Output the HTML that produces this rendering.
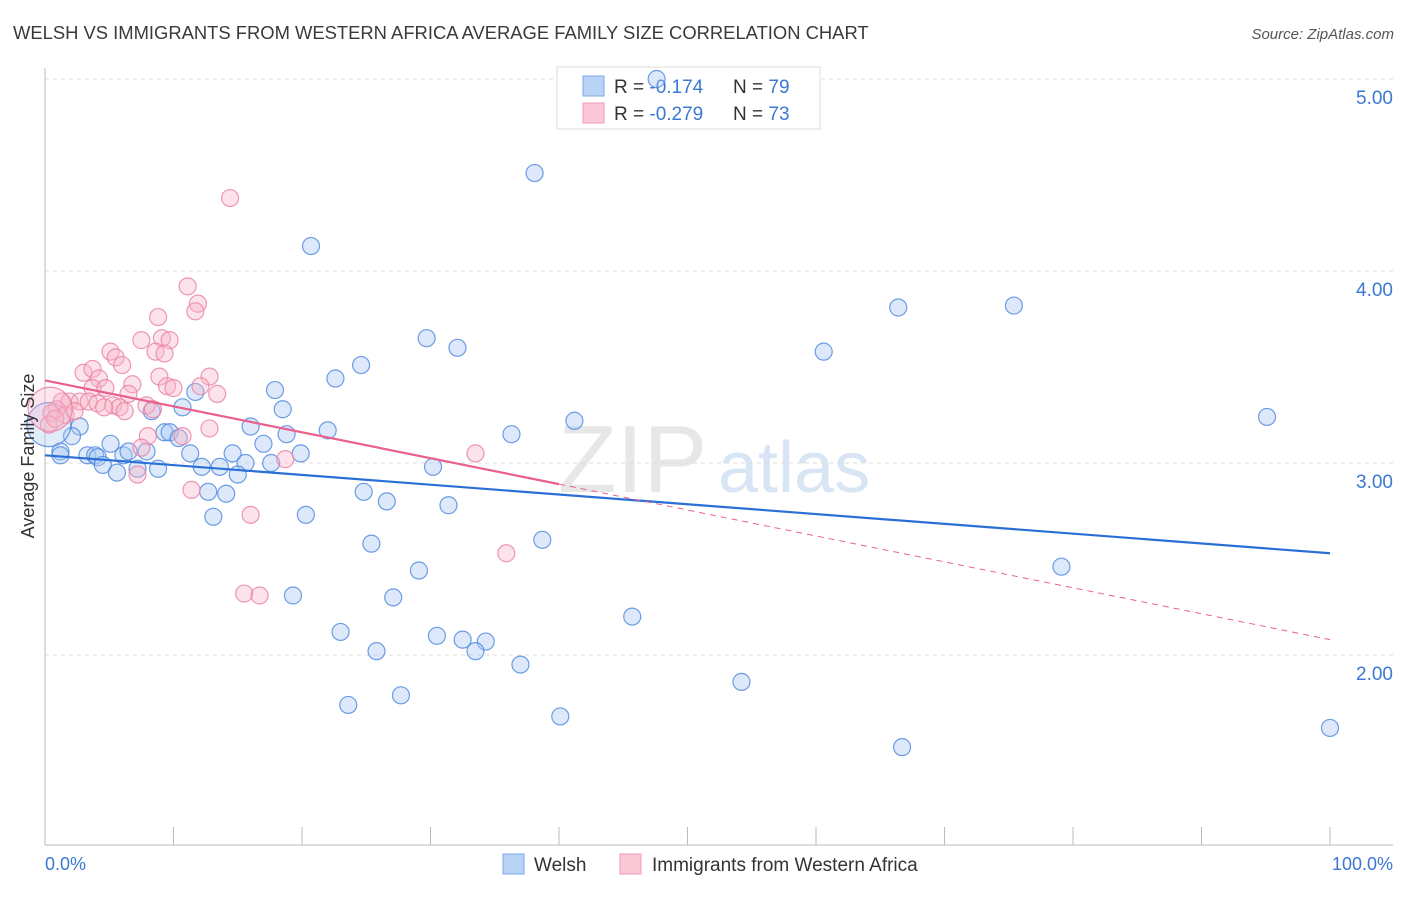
<!DOCTYPE html>
<html><head><meta charset="utf-8"><style>
body{margin:0;background:#fff;font-family:"Liberation Sans",sans-serif}
svg text{font-family:"Liberation Sans",sans-serif}
</style></head><body>
<svg id="chart" width="1406" height="892" viewBox="0 0 1406 892" xmlns="http://www.w3.org/2000/svg">
<text x="13" y="39" font-size="18.4" fill="#3a3a3a">WELSH VS IMMIGRANTS FROM WESTERN AFRICA AVERAGE FAMILY SIZE CORRELATION CHART</text>
<text x="1394" y="39" font-size="15" fill="#555" text-anchor="end" font-style="italic">Source: ZipAtlas.com</text>
<g>
<text x="558" y="492" font-size="96" fill="#d8d8d8" font-family="Liberation Serif" opacity="0.6">ZIP</text>
<text x="718" y="492" font-size="72" fill="#b8d0ee" opacity="0.55">atlas</text>
</g>
<g id="grid"></g>
<g id="axes"></g>
<g>
<rect x="557" y="67" width="263" height="62" fill="#fff" stroke="#ddd"/>
<rect x="583" y="76" width="21" height="20" fill="#b8d3f5" stroke="#7aa9e8"/>
<rect x="583" y="103" width="21" height="20" fill="#fbc8d7" stroke="#f09ab4"/>
<text x="614" y="93" font-size="19" fill="#333">R = <tspan fill="#3a78d4">-0.174</tspan><tspan x="733">N = </tspan><tspan fill="#3a78d4">79</tspan></text>
<text x="614" y="120" font-size="19" fill="#333">R = <tspan fill="#3a78d4">-0.279</tspan><tspan x="733">N = </tspan><tspan fill="#3a78d4">73</tspan></text>
</g>
<g id="marks"></g>
<text transform="translate(34,456) rotate(-90)" font-size="18" fill="#333" text-anchor="middle">Average Family Size</text>
<text x="45" y="870" font-size="18" fill="#3a78d4">0.0%</text>
<text x="1393" y="870" font-size="18" fill="#3a78d4" text-anchor="end">100.0%</text>
<g>
<rect x="503" y="854" width="21" height="20" fill="#b8d3f5" stroke="#7aa9e8"/>
<text x="534" y="871" font-size="19" fill="#333">Welsh</text>
<rect x="620" y="854" width="21" height="20" fill="#fbc8d7" stroke="#f09ab4"/>
<text x="652" y="871" font-size="19" fill="#333">Immigrants from Western Africa</text>
</g>
</svg>
<script>
const yTicks=[2,3,4,5];
const yTickLabels=["2.00","3.00","4.00","5.00"];
const xTicks=[0,10,20,30,40,50,60,70,80,90,100];
const welshX=[47.6,38.1,20.7,66.4,75.4,60.6,29.7,32.1,24.6,22.6,17.9,11.7,95.1,41.2,36.3,10.7,8.3,18.5,16.0,18.8,22.0,2.7,2.1,5.1,9.3,9.7,10.4,17.0,1.2,1.2,3.3,3.9,4.1,6.1,6.5,7.9,11.3,14.6,19.9,4.5,5.6,7.2,8.8,12.2,13.6,15.6,15.0,17.6,30.2,12.7,14.1,24.8,26.6,31.4,13.1,20.3,25.4,38.7,29.1,79.1,19.3,27.1,45.7,23.0,30.5,32.5,34.3,33.5,25.8,37.0,54.2,27.7,23.6,40.1,66.7,100,0.3];
const welshY=[5.00,4.51,4.13,3.81,3.82,3.58,3.65,3.60,3.51,3.44,3.38,3.37,3.24,3.22,3.15,3.29,3.27,3.28,3.19,3.15,3.17,3.19,3.14,3.10,3.16,3.16,3.13,3.10,3.06,3.04,3.04,3.04,3.03,3.04,3.06,3.06,3.05,3.05,3.05,2.99,2.95,2.97,2.97,2.98,2.98,3.00,2.94,3.00,2.98,2.85,2.84,2.85,2.80,2.78,2.72,2.73,2.58,2.60,2.44,2.46,2.31,2.30,2.20,2.12,2.10,2.08,2.07,2.02,2.02,1.95,1.86,1.79,1.74,1.68,1.52,1.62,3.20];
const immX=[14.4,11.1,11.9,11.7,8.8,7.5,9.1,9.7,8.6,9.3,5.1,5.5,6.0,3.0,3.7,12.8,8.9,4.2,6.8,9.5,10.0,12.1,3.7,4.7,6.5,13.4,7.9,8.4,1.3,1.9,2.7,3.4,4.1,5.3,5.8,4.6,0.9,1.6,0.5,2.3,6.2,0.3,0.8,12.8,8.0,10.7,7.5,18.7,33.5,7.2,11.4,16.0,35.9,15.5,16.7,0.4];
const immY=[4.38,3.92,3.83,3.79,3.76,3.64,3.65,3.64,3.58,3.57,3.58,3.55,3.51,3.47,3.49,3.45,3.45,3.44,3.41,3.40,3.39,3.40,3.39,3.39,3.36,3.36,3.30,3.28,3.32,3.32,3.32,3.32,3.31,3.30,3.29,3.29,3.28,3.25,3.26,3.27,3.27,3.20,3.23,3.18,3.14,3.14,3.08,3.02,3.05,2.94,2.86,2.73,2.53,2.32,2.31,3.28];
const welshTrend=[3.04,2.53];
const immTrend=[3.43,2.08];
const immSolidEnd=40;
const X=v=>45+v*12.85, Y=v=>79+(5-v)*192;
const NS="http://www.w3.org/2000/svg";
function mk(parent,tag,attrs){const e=document.createElementNS(NS,tag);for(const k in attrs)e.setAttribute(k,attrs[k]);document.getElementById(parent).appendChild(e);return e;}
yTicks.forEach((t,i)=>{
 const g=mk('grid','line',{x1:45,x2:1395,y1:Y(t),y2:Y(t),stroke:'#ddd','stroke-dasharray':'4,4'});
 
 
 const l=mk('grid','text',{x:1393,y:Y(t)+25,'font-size':19,fill:'#3a78d4','text-anchor':'end'});
 l.textContent=yTickLabels[i];
 
 
});
const ax=mk('axes','line',{x1:45,x2:45,y1:68,y2:845,stroke:'#bbb'});


const bx=mk('axes','line',{x1:45,x2:1393,y1:845,y2:845,stroke:'#bbb'});


xTicks.forEach(t=>{
 const k=mk('axes','line',{x1:X(t),x2:X(t),y1:827,y2:845,stroke:'#bbb'});
 
 
});
function dots(xs,ys,fill,stroke,name){xs.forEach((x,i)=>{
 const big=(i===xs.length-1);
 const c=mk('marks','circle',{cx:X(x),cy:Y(ys[i]),r:big?22:8.5,fill:fill,'fill-opacity':big?0.35:0.4,stroke:stroke,'stroke-width':1.2,'stroke-opacity':0.8});
 
 
});}
dots(welshX,welshY,'#a9c8f2','#4a86dd','welsh-point');
dots(immX,immY,'#f8b7cb','#ea7fa0','immigrant-point');
const tb=mk('marks','line',{x1:X(0),y1:Y(welshTrend[0]),x2:X(100),y2:Y(welshTrend[1]),stroke:'#2a6fd6','stroke-width':2.2});


const iv=x=>immTrend[0]+(immTrend[1]-immTrend[0])*x/100;
const tp=mk('marks','line',{x1:X(0),y1:Y(iv(0)),x2:X(immSolidEnd),y2:Y(iv(immSolidEnd)),stroke:'#e8618c','stroke-width':2.2});


const td=mk('marks','line',{x1:X(immSolidEnd),y1:Y(iv(immSolidEnd)),x2:X(100),y2:Y(iv(100)),stroke:'#e8618c','stroke-width':1,'stroke-dasharray':'6,5'});


</script>
</body></html>
